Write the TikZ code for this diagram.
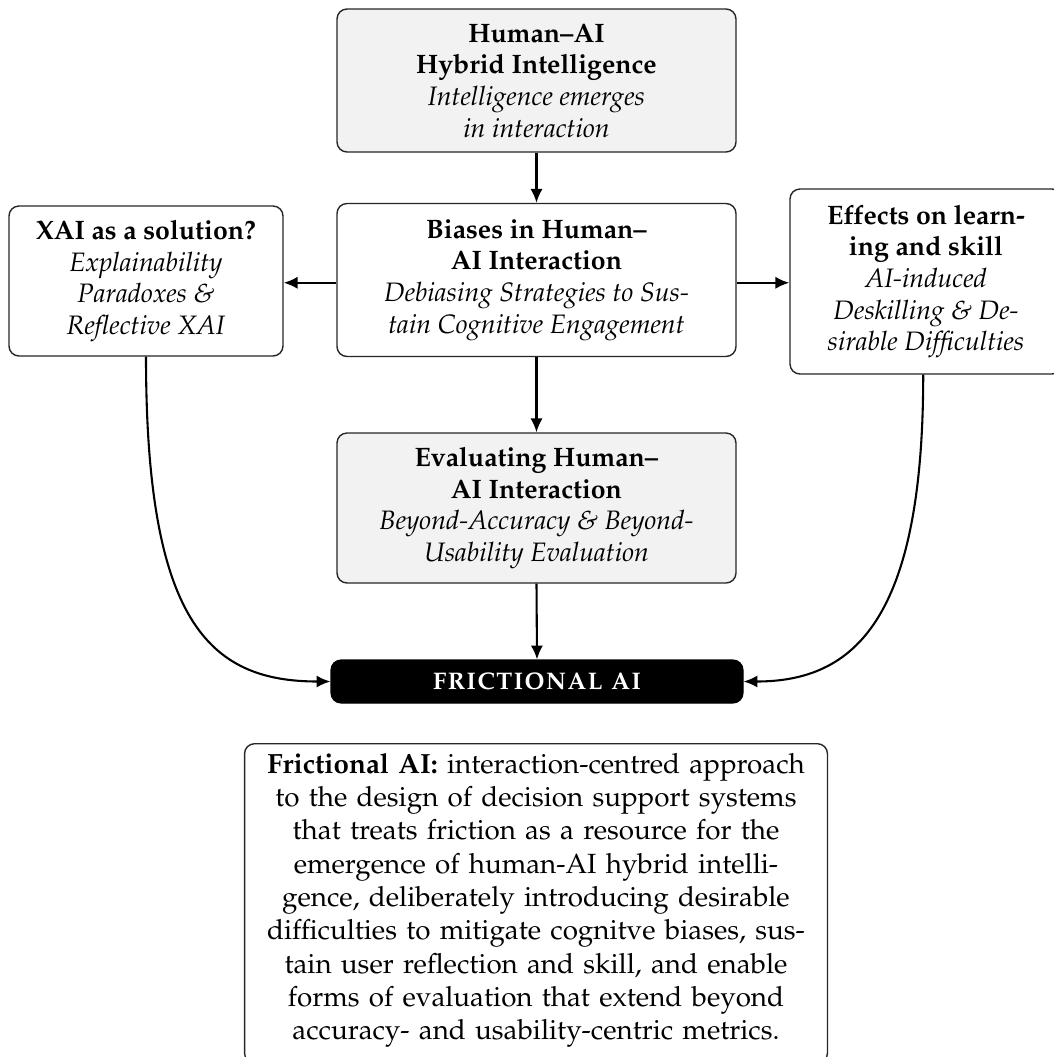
\documentclass[tikz,border=0pt]{standalone}
\usepackage[T1]{fontenc}
\usepackage{mathpazo}
\usetikzlibrary{arrows.meta}

\tikzset{
  box/.style={draw=black!85, line width=0.5pt, rounded corners=3.6pt, align=center,
              inner sep=0pt, font=\fontsize{9.6}{11.4}\selectfont},
  greybox/.style={box, fill=gray!10},
  whitebox/.style={box, fill=white},
  hub/.style={draw=black, fill=black, rounded corners=3.6pt, text=white, inner sep=0pt,
              font=\fontsize{10.8}{13}\selectfont\bfseries},
  note/.style={draw=black!85, line width=0.5pt, rounded corners=3.6pt, align=center,
               inner sep=3.4pt, font=\fontsize{10}{12}\selectfont},
  link/.style={line width=0.75pt, -{Latex[length=5pt,width=4.4pt]}}
}

\begin{document}
\begin{tikzpicture}[x=0.36pt,y=-0.36pt]
\useasboundingbox (0,0) rectangle (1054,1057);

% central column
\node[greybox, minimum width=399*0.36pt, minimum height=143*0.36pt] (hybrid) at (536.5,80.5)
  {\textbf{Human--AI}\\\textbf{Hybrid Intelligence}\\\textit{Intelligence emerges}\\\textit{in interaction}};
\node[whitebox, minimum width=399*0.36pt, minimum height=153*0.36pt] (biases) at (536.5,280)
  {\textbf{Biases in Human--}\\\textbf{AI Interaction}\\\textit{Debiasing Strategies to Sus-}\\\textit{tain Cognitive Engagement}};
\node[greybox, minimum width=399*0.36pt, minimum height=150*0.36pt] (eval) at (536.5,508)
  {\textbf{Evaluating Human--}\\\textbf{AI Interaction}\\\textit{Beyond-Accuracy \& Beyond-}\\\textit{Usability Evaluation}};

% side boxes
\node[whitebox, minimum width=274*0.36pt, minimum height=150*0.36pt] (xai) at (146,281)
  {\textbf{XAI as a solution?}\\\textit{Explainability}\\\textit{Paradoxes \&}\\\textit{Reflective XAI}};
\node[whitebox, minimum width=272*0.36pt, minimum height=185*0.36pt] (learn) at (926,281.5)
  {\textbf{Effects on learn-}\\\textbf{ing and skill}\\\textit{AI-induced}\\\textit{Deskilling \& De-}\\\textit{sirable Difficulties}};

% target
\node[hub, minimum width=412*0.36pt, minimum height=43*0.36pt] (fric) at (537,681.5)
  {\textsc{frictional ai}};

% definition
\node[note, anchor=north, text width=564*0.36pt] (def) at (536,743)
  {\textbf{Frictional AI:} interaction-centred approach\\
   to the design of decision support systems\\
   that treats friction as a resource for the\\
   emergence of human-AI hybrid intelli-\\
   gence, deliberately introducing desirable\\
   difficulties to mitigate cognitve biases, sus-\\
   tain user reflection and skill, and enable\\
   forms of evaluation that extend beyond\\
   accuracy- and usability-centric metrics.\rule[-5pt]{0pt}{0pt}};

% connectors
\draw[link] (hybrid.south) -- (biases.north);
\draw[link] ([yshift=-1pt]biases.west) -- ([yshift=-1pt]biases.west -| xai.east);
\draw[link] ([yshift=-1pt]biases.east) -- ([yshift=-1pt]biases.east -| learn.west);
\draw[link] (biases.south) -- (eval.north);
\draw[link] (eval.south) -- (fric.north);
\draw[link] (xai.south) to[out=-90, in=180, out distance=95pt, in distance=44pt] (fric.west);
\draw[link] ([xshift=-1pt]learn.south) to[out=-90, in=0, out distance=88pt, in distance=40pt] (fric.east);
\end{tikzpicture}
\end{document}
